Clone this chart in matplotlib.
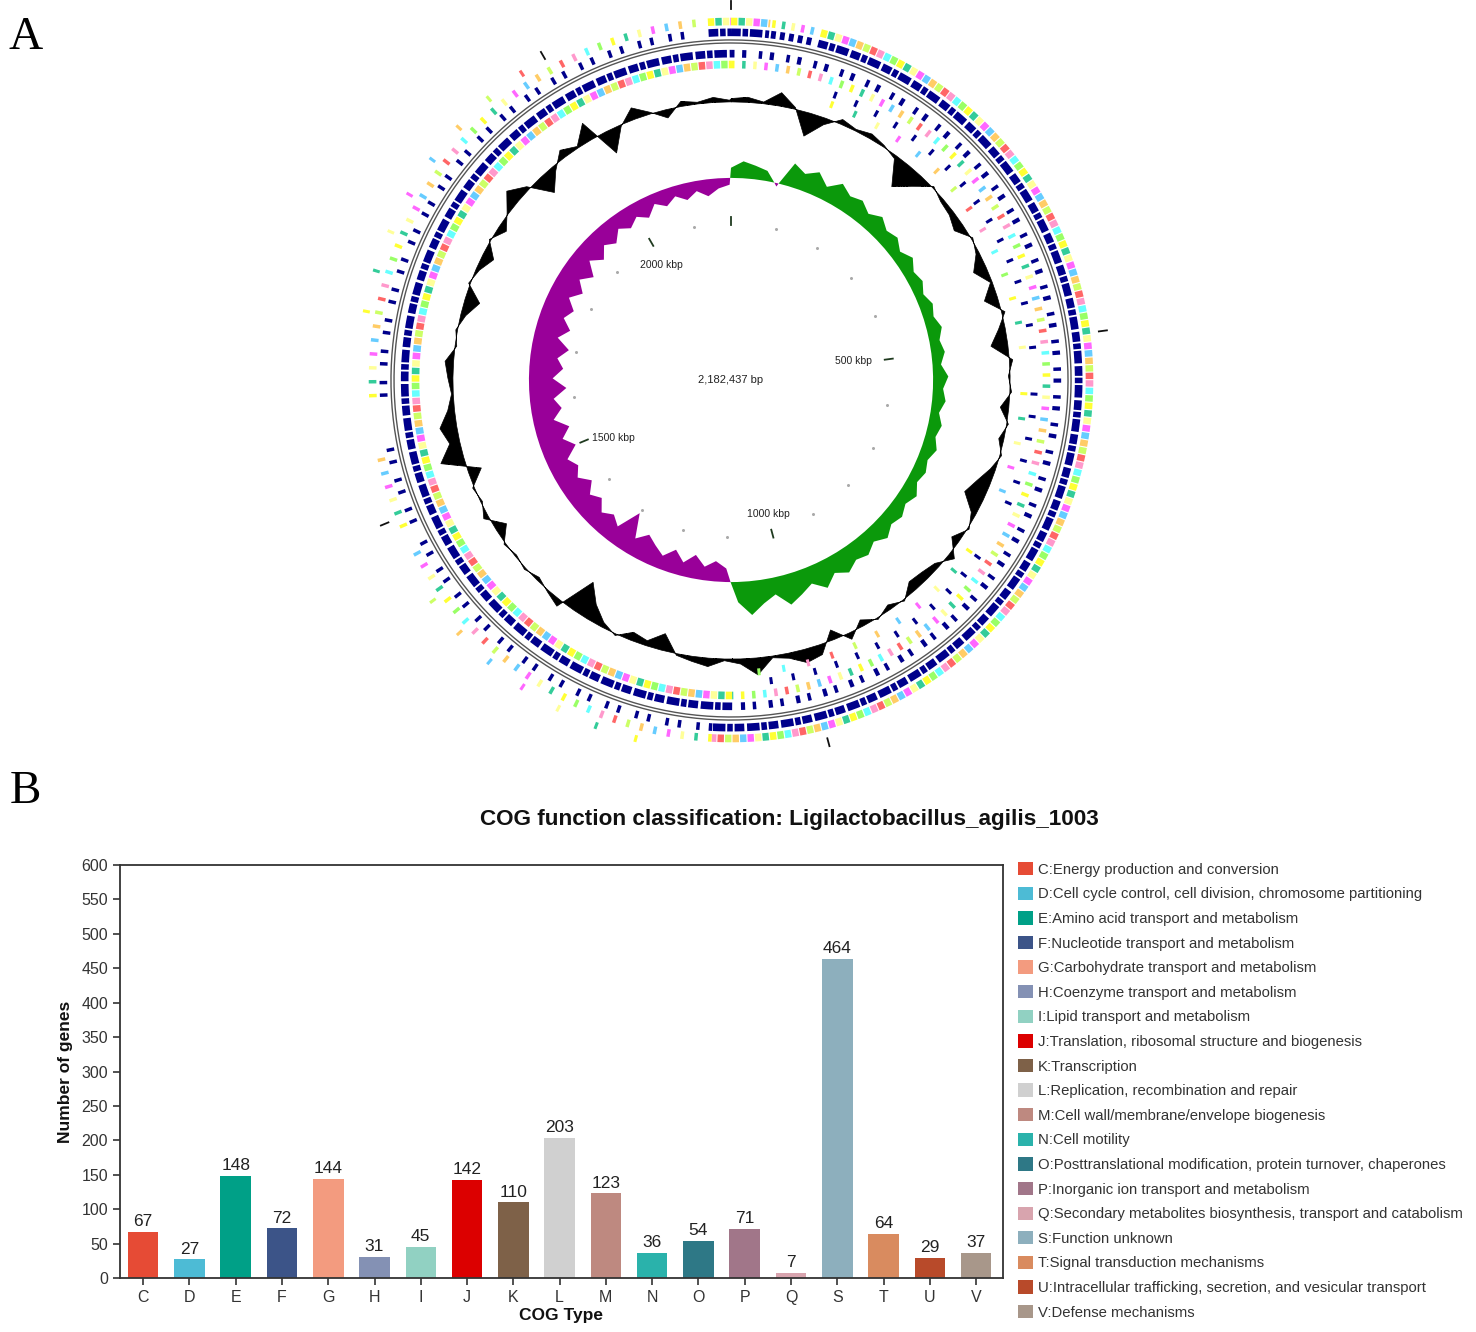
import numpy as np
import matplotlib
matplotlib.use("Agg")
import matplotlib.pyplot as plt
from matplotlib.patches import Patch

plt.rcParams['font.family'] = ['Liberation Sans', 'DejaVu Sans']
plt.rcParams['lines.scale_dashes'] = False

# ---------------- Panel B data ----------------
cog_letters = ['C', 'D', 'E', 'F', 'G', 'H', 'I', 'J', 'K', 'L', 'M', 'N', 'O', 'P', 'Q', 'S', 'T', 'U', 'V']
cog_counts = [67, 27, 148, 72, 144, 31, 45, 142, 110, 203, 123, 36, 54, 71, 7, 464, 64, 29, 37]
cog_names = [
    'C:Energy production and conversion',
    'D:Cell cycle control, cell division, chromosome partitioning',
    'E:Amino acid transport and metabolism',
    'F:Nucleotide transport and metabolism',
    'G:Carbohydrate transport and metabolism',
    'H:Coenzyme transport and metabolism',
    'I:Lipid transport and metabolism',
    'J:Translation, ribosomal structure and biogenesis',
    'K:Transcription',
    'L:Replication, recombination and repair',
    'M:Cell wall/membrane/envelope biogenesis',
    'N:Cell motility',
    'O:Posttranslational modification, protein turnover, chaperones',
    'P:Inorganic ion transport and metabolism',
    'Q:Secondary metabolites biosynthesis, transport and catabolism',
    'S:Function unknown',
    'T:Signal transduction mechanisms',
    'U:Intracellular trafficking, secretion, and vesicular transport',
    'V:Defense mechanisms',
]
cog_colors = ['#E64B35', '#4DBBD5', '#00A087', '#3C5488', '#F39B7F', '#8491B4', '#91D1C2',
              '#DC0000', '#7E6148', '#D0D0D0', '#BE8980', '#2AB2AB', '#2E7886', '#A17689',
              '#D8A4AE', '#8DAFBD', '#D98B5F', '#B84A2A', '#A8978A']

# ---------------- Panel A data ----------------
genome_bp = 2182437
genome_kbp = genome_bp / 1000.0
window_kbp = 20
gc_content_dev = [1, 1.5, 0.5, 4, 0.5, -7, -2, 1.5, 0.5, 1.5,
                  0.5, -1, -8, -4, 0.5, -1, -1.5, -3, 0.5, -1,
                  -4, -0.5, -4, 1, -2, -5, 1, -0.5, 0.5, -2.5,
                  0.5, -1.5, 0.5, -1.5, -4, -6, -1.5, 0.5, -2.5, 2,
                  -1.5, -2.5, -3, 0.5, -1.5, 0.5, -2, 2, -3, 3,
                  4, 1.5, 0.5, 5, 1.5, 0.5, 2.5, 1.5, 0.5, -5,
                  -1.5, -2.5, 0.5, -1.5, -5, -10, 2, 0.5, -1, 0.5,
                  -0.5, 0.5, -3.5, 1.5, -0.5, 0.5, -4, 7, 3, 5,
                  2, 0.5, 1.5, 2.5, -0.5, 0.5, -1.5, -4.5, 0.5, -1,
                  -3.5, 0.5, -2.5, 0.5, 4.5, 1, -6, -1.5, 2.5, 0.5,
                  5.5, -7, -0.5, 3.5, 0.5, -2.5, 1.5, 0.5, 1.5, 0.5]
gc_skew = [3, 5, 4, 3, -1,
           7, 5, 7, 4, 7, 5, 6, 4, 6, 4, 5,
           3, 5, 3, 4, 2.5, 4, 3, 4.5, 3, 4, 2.5, 4.5,
           3, 4, 2.5, 4, 3, 4.5, 3, 4, 3, 5, 3.5, 5,
           4, 6, 4, 6, 5, 7, 5, 8, 5, 7, 9, 5, 7, 10, 6,
           -4, -6, -4, -7, -4, -7, -4, -6, -8, -5, -12, -5, -7, -5, -8,
           -6, -9, -6, -8, -6, -10, -7, -10, -6, -9, -7, -11, -7, -10, -8,
           -11, -7, -10, -7, -9, -6, -9, -6, -9, -5, -8, -5, -7, -4, -6,
           -4, -6, -3, -5, -3, -5, -3, -5, -3, -2]
scale_ticks_kbp = [0, 500, 1000, 1500, 2000]
scale_labels = ['', '500 kbp', '1000 kbp', '1500 kbp', '2000 kbp']

# gene-track coverage intervals (kbp)
outer_cds_dense = [(2160, genome_kbp), (0, 38), (88, 1110)]
outer_cds_mid = [(40, 82)]
outer_cds_sparse = [(1110, 1470), (1490, 1570), (1620, 2150)]
inner_cds_dense = [(1090, genome_kbp)]
inner_cds_sparse = [(0, 1090)]
inner_extra_sparse = [(120, 520), (560, 700), (760, 1060)]
outer_extra_sparse = [(1180, 1420), (1700, 2000)]

# ---------------- figure ----------------
fig = plt.figure(figsize=(14.76, 13.32), dpi=100)

axc = fig.add_axes([0.23151, 0.42245, 0.52752, 0.58454], projection='polar')
axc.set_theta_zero_location('N')
axc.set_theta_direction(-1)
axc.set_rlim(0, 115)
axc.set_axis_off()


def th(kbp):
    return np.asarray(kbp, dtype=float) / genome_kbp * 2 * np.pi


def arc(start, end, r, **kw):
    t = th(np.linspace(start, end, 400))
    axc.plot(t, np.full_like(t, r), solid_capstyle='butt', dash_capstyle='butt', **kw)


blue = '#00008B'
track_cols = ['#FFFF33', '#99FF66', '#66FFFF', '#FF99CC', '#FF6666', '#CCFF66',
              '#FFCC66', '#66CCFF', '#FF66FF', '#FFFF99', '#33CC99']

R_OUT_COL, R_OUT_CDS, R_BB, R_IN_CDS, R_IN_COL = 105.9, 102.7, 100.0, 96.4, 93.2


def cds_track(intervals, r, dashes, lw=5.5):
    for a, b in intervals:
        arc(a, b, r, color=blue, lw=lw, linestyle=(0, dashes))


def col_track(intervals, r, seg, step, lw=5.5):
    n = len(track_cols)
    for a, b in intervals:
        for k, c in enumerate(track_cols):
            arc(a, b, r, color=c, lw=lw, linestyle=(k * step, (seg, n * step - seg)))


# CDS tracks
cds_track(outer_cds_dense, R_OUT_CDS, (7, 1.3, 4, 1.3, 9, 2))
cds_track(outer_cds_mid, R_OUT_CDS, (3.5, 3))
cds_track(outer_cds_sparse, R_OUT_CDS, (2.5, 6.5, 2.5, 11))
cds_track(inner_cds_dense, R_IN_CDS, (7, 1.3, 4, 1.3, 9, 2))
cds_track(inner_cds_sparse, R_IN_CDS, (2.5, 5.5, 3, 9))
cds_track(inner_extra_sparse, 89.6, (2.2, 14), lw=5)
# COG coloured tracks
col_track(outer_cds_dense, R_OUT_COL, 4.6, 5.4)
col_track(outer_cds_mid, R_OUT_COL, 2.5, 7)
col_track(outer_cds_sparse, R_OUT_COL, 2.5, 10)
col_track(inner_cds_dense, R_IN_COL, 4.6, 5.4)
col_track(inner_cds_sparse, R_IN_COL, 2.5, 8)
col_track(inner_extra_sparse, 86.6, 2.2, 18, lw=5)
col_track(outer_extra_sparse, 109.6, 2.2, 30, lw=5)

# backbone
arc(0, genome_kbp, R_BB - 0.45, color='#555555', lw=1.0)
arc(0, genome_kbp, R_BB + 0.45, color='#555555', lw=1.0)

# GC content
pos = np.arange(len(gc_content_dev)) * window_kbp
pos_c = np.append(pos, genome_kbp)
gc_c = np.append(gc_content_dev, gc_content_dev[0]).astype(float)
R_GC = 82.3
axc.fill_between(th(pos_c), R_GC, R_GC + gc_c, color='black', lw=0.5, edgecolor='black')

# GC skew
sk_c = np.append(gc_skew, gc_skew[0]).astype(float)
R_SK = 59.7
axc.fill_between(th(pos_c), R_SK, R_SK + sk_c, where=sk_c >= 0, interpolate=True,
                 color='#0B990B', lw=0)
axc.fill_between(th(pos_c), R_SK, R_SK + sk_c, where=sk_c <= 0, interpolate=True,
                 color='#990099', lw=0)

# scale ticks
for k in scale_ticks_kbp:
    axc.plot([th(k), th(k)], [45.8, 48.2], color='#1f3a1f', lw=1.3)
    axc.plot([th(k), th(k)], [109.6, 112.0], color='#111111', lw=1.3)
minor = [m for m in range(100, 2200, 100) if m % 500 != 0]
axc.plot(th(minor), np.full(len(minor), 46.5), linestyle='none', marker='o', ms=1.2,
         color='#aaaaaa')

lab_fmt = {500: (42.0, 'right', 'center'), 1000: (42.5, 'center', 'bottom'),
           1500: (44.5, 'left', 'center'), 2000: (41.0, 'center', 'top')}
for k, lab in zip(scale_ticks_kbp, scale_labels):
    if not lab:
        continue
    r, ha, va = lab_fmt[k]
    axc.text(th(k), r, lab, ha=ha, va=va, fontsize=7.5, color='#222222')
axc.text(0, 0, f'{genome_bp:,} bp', ha='center', va='center', fontsize=8, color='#222222')

# ---------------- Panel B ----------------
axb = fig.add_axes([0.0813, 0.04054, 0.5982, 0.31006])
x = np.arange(len(cog_letters))
bars = axb.bar(x, cog_counts, width=0.66, color=cog_colors)
axb.bar_label(bars, labels=[str(v) for v in cog_counts], padding=2, fontsize=12.5, color='#222222')
axb.set_xlim(-0.5, 18.58)
axb.set_ylim(0, 600)
axb.set_yticks(range(0, 601, 50))
axb.set_xticks(x)
axb.set_xticklabels(cog_letters)
for s in axb.spines.values():
    s.set_color('#333333')
    s.set_linewidth(1.3)
axb.tick_params(direction='out', length=5, width=1.2, colors='#333333', labelsize=11.5,
                labelcolor='#333333')
axb.set_ylabel('Number of genes', fontsize=12.5, fontweight='bold', color='#111111')
axb.yaxis.set_label_coords(-0.0532, 0.5)
axb.set_xlabel('COG Type', fontsize=12.5, fontweight='bold', color='#111111')
axb.xaxis.set_label_coords(0.5, -0.0726)

handles = [Patch(facecolor=c, edgecolor='none') for c in cog_colors]
fig.legend(handles, cog_names, loc='upper left', bbox_to_anchor=(1018 / 1476, 1 - 862 / 1332),
           frameon=False, fontsize=10.7, handlelength=1.0, handleheight=1.0,
           handletextpad=0.35, labelspacing=0.664, borderpad=0, borderaxespad=0,
           labelcolor='#333333')

fig.text(789 / 1476, 1 - 819 / 1332, 'COG function classification: Ligilactobacillus_agilis_1003',
         ha='center', va='center', fontsize=16.2, fontweight='bold', color='#111111')

fig.text(26 / 1476, 1 - 38 / 1332, 'A', family=['Liberation Serif', 'DejaVu Serif'],
         fontsize=34, ha='center', va='center')
fig.text(25 / 1476, 1 - 792 / 1332, 'B', family=['Liberation Serif', 'DejaVu Serif'],
         fontsize=34, ha='center', va='center')

fig.savefig('out.png', dpi=100)
